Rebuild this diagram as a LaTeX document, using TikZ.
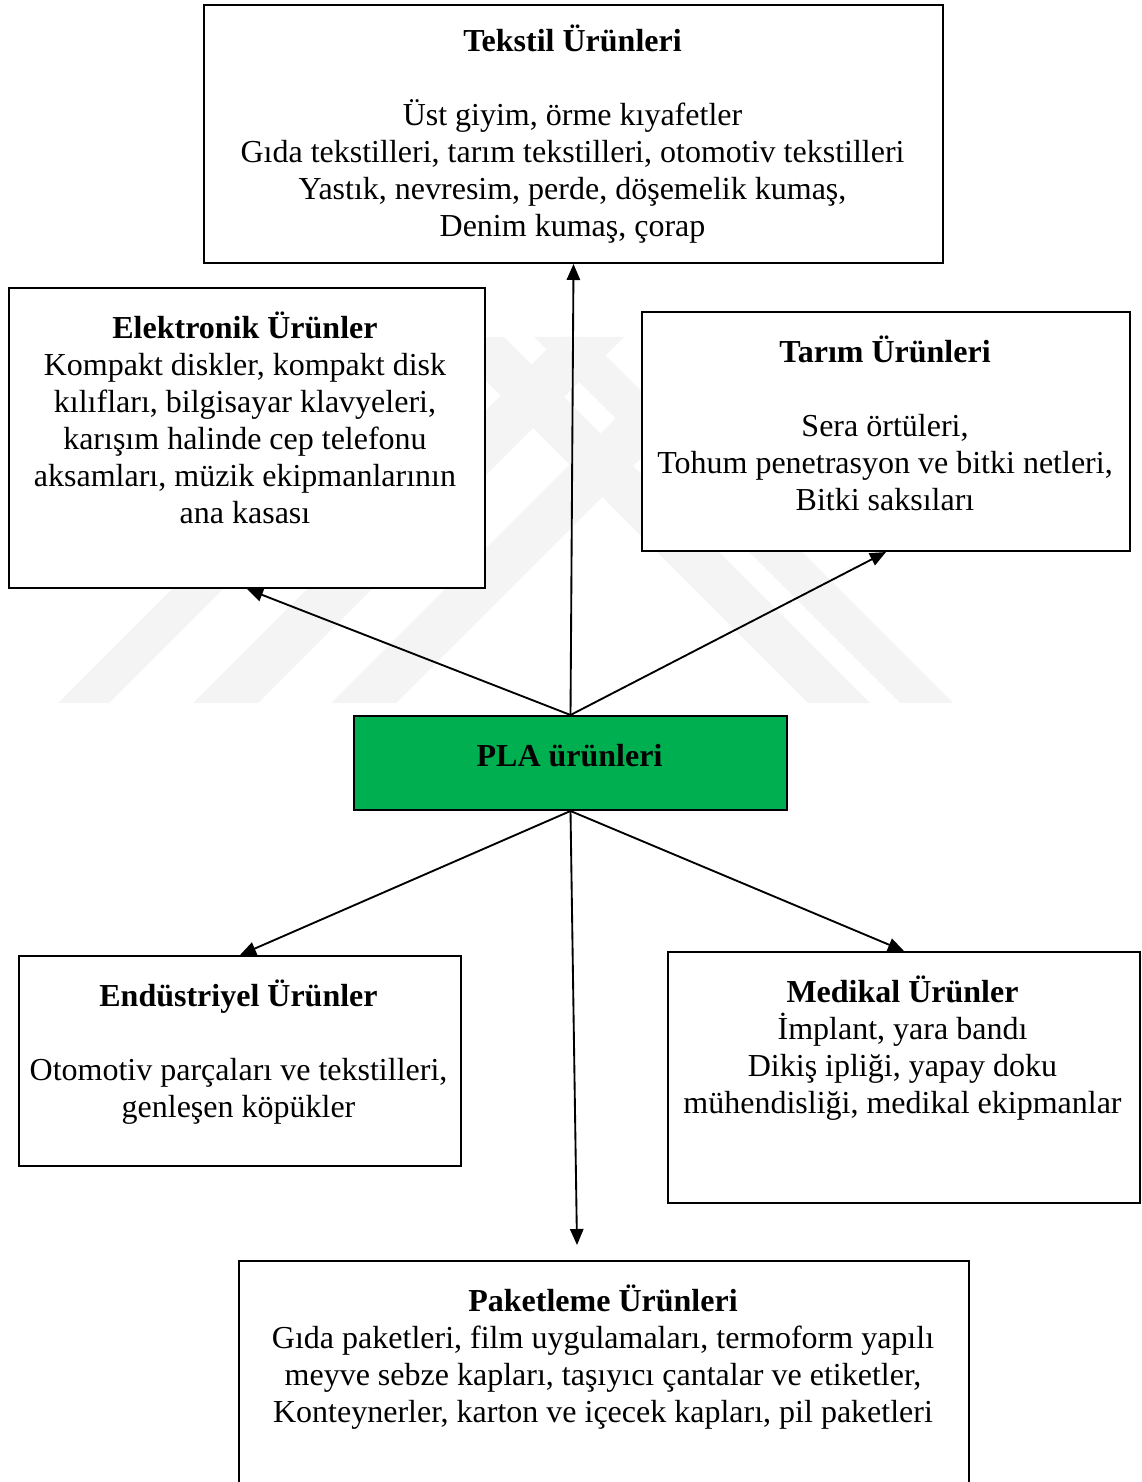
\documentclass[tikz,border=0pt]{standalone}
\usepackage{fontspec}
\setmainfont{Liberation Serif}
\usetikzlibrary{arrows.meta}
\definecolor{plagreen}{HTML}{00B050}
\definecolor{wmgray}{gray}{0.955}
\begin{document}
\begin{tikzpicture}[x=0.375pt, y=-0.375pt,
  pbox/.style 2 args={draw=black, line width=0.75pt, fill=white, inner sep=0pt,
    anchor=north west, minimum width={#1*0.375pt}, minimum height={#2*0.375pt}},
  txt/.style={align=center, inner sep=0pt, anchor=base,
    font=\fontsize{12}{13.875}\selectfont},
  arr/.style={-{Triangle[length=6pt,width=5pt]}, line width=0.7pt},
  wm/.style={fill=wmgray}]
\useasboundingbox (0,0) rectangle (1141,1482);
\clip (0,0) rectangle (1141,1482);
% faint background watermark
\fill[wm] (58,703) -- (109,703) -- (475,337) -- (424,337) -- cycle;
\fill[wm] (193,703) -- (258,703) -- (624,337) -- (559,337) -- cycle;
\fill[wm] (331,703) -- (396,703) -- (762,337) -- (697,337) -- cycle;
\fill[wm] (808,703) -- (870,703) -- (504,337) -- (442,337) -- cycle;
\fill[wm] (900,703) -- (953,703) -- (587,337) -- (534,337) -- cycle;
% boxes
\node[pbox={739}{258}] (tek) at (203,4) {};
\node[pbox={476}{300}] (elk) at (8,287) {};
\node[pbox={488}{239}] (tar) at (641,311) {};
\node[pbox={433}{94}, fill=plagreen] (pla) at (353,715) {};
\node[pbox={442}{210}] (end) at (18,955) {};
\node[pbox={472}{251}] (med) at (667,951) {};
\node[pbox={730}{300}] (pak) at (238,1260) {};
% texts
\node[txt] (tektxt) at (572.5,237) {\textbf{Tekstil Ürünleri}\\[13.875pt]
  Üst giyim, örme kıyafetler\\
  Gıda tekstilleri, tarım tekstilleri, otomotiv tekstilleri\\
  Yastık, nevresim, perde, döşemelik kumaş,\\
  Denim kumaş, çorap};
\node[txt] (elktxt) at (245,524) {\textbf{Elektronik Ürünler}\\
  Kompakt diskler, kompakt disk\\
  kılıfları, bilgisayar klavyeleri,\\
  karışım halinde cep telefonu\\
  aksamları, müzik ekipmanlarının\\
  ana kasası};
\node[txt] (tartxt) at (885,510.5) {\textbf{Tarım Ürünleri}\\[13.875pt]
  Sera örtüleri,\\
  Tohum penetrasyon ve bitki netleri,\\
  Bitki saksıları};
\node[txt] (platxt) at (569.5,766) {\textbf{PLA ürünleri}};
\node[txt] (endtxt) at (238.5,1117) {\textbf{Endüstriyel Ürünler}\\[13.875pt]
  Otomotiv parçaları ve tekstilleri,\\
  genleşen köpükler};
\node[txt] (medtxt) at (902.5,1113) {\textbf{Medikal Ürünler}\\
  İmplant, yara bandı\\
  Dikiş ipliği, yapay doku\\
  mühendisliği, medikal ekipmanlar};
\node[txt] (paktxt) at (603,1422) {\textbf{Paketleme Ürünleri}\\
  Gıda paketleri, film uygulamaları, termoform yapılı\\
  meyve sebze kapları, taşıyıcı çantalar ve etiketler,\\
  Konteynerler, karton ve içecek kapları, pil paketleri};
% connectors
\coordinate (pakin) at (577,1245);
\draw[arr] (pla.north) -- (tek.south);
\draw[arr] (pla.north) -- (elk.south);
\draw[arr] (pla.north) -- (tar.south);
\draw[arr] (pla.south) -- (end.north);
\draw[arr] (pla.south) -- (med.north);
\draw[arr] (pla.south) -- (pakin);
\end{tikzpicture}
\end{document}
